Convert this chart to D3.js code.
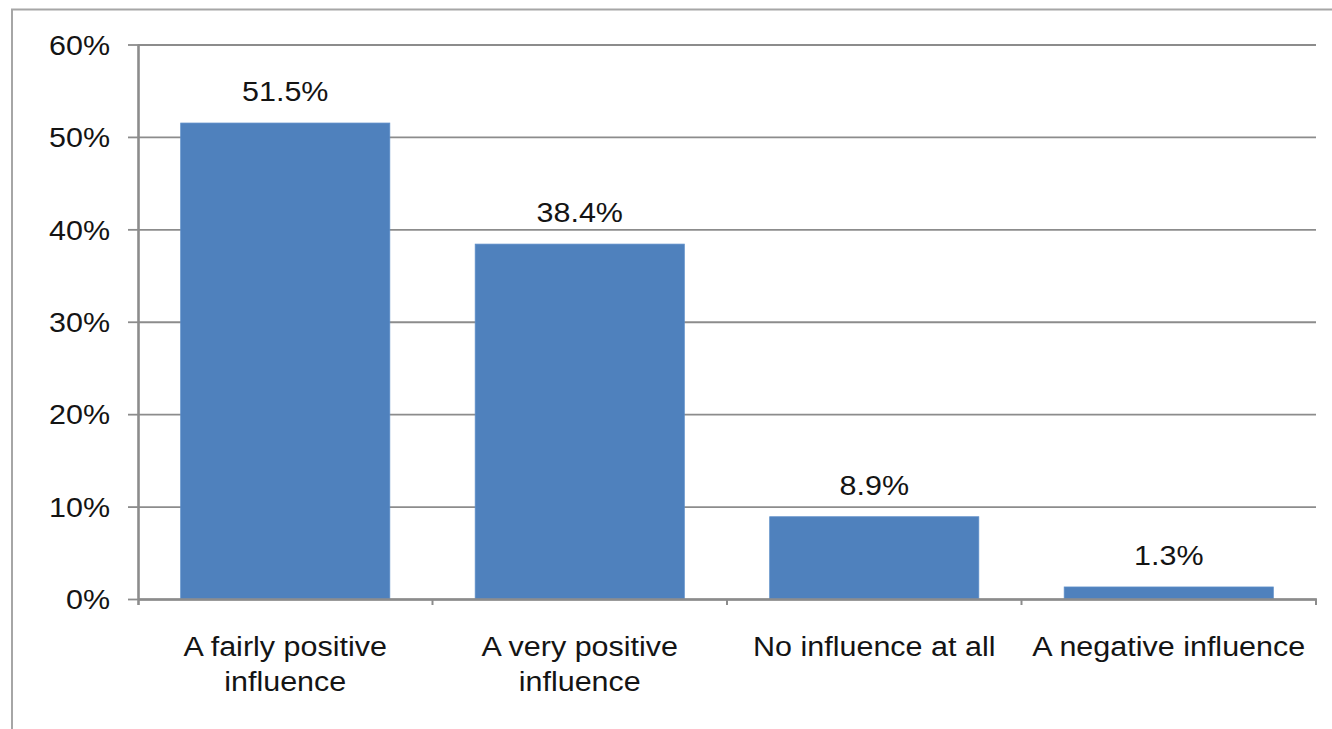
<!DOCTYPE html>
<html>
<head>
<meta charset="utf-8">
<script src="https://cdn.jsdelivr.net/npm/d3@7"></script>
<style>
  body { margin: 0; background: #fff; }
  svg { display: block; }
  text { font-family: "Liberation Sans", Arial, sans-serif; fill: #141414; }
</style>
</head>
<body>
<svg id="chart" width="1332" height="729"></svg>
<script>
const categories = ["A fairly positive\ninfluence", "A very positive\ninfluence", "No influence at all", "A negative influence"];
const values = [0.515, 0.384, 0.089, 0.013];
const valueLabels = ["51.5%", "38.4%", "8.9%", "1.3%"];
const yTicks = [0, 0.1, 0.2, 0.3, 0.4, 0.5, 0.6];

const W = 1332, H = 729;
const plotLeft = 138, plotRight = 1316, plotTop = 44.5, plotBottom = 599;
const SX = 1.13, FS = 27;
const lineColor = "#8c8c8c";

const svg = d3.select("#chart");

// outer frame
svg.append("rect").attr("x", 12).attr("y", 9.5).attr("width", W + 20).attr("height", H + 20)
  .attr("fill", "none").attr("stroke", "#a6a6a6").attr("stroke-width", 2);

const x = d3.scaleBand().domain(categories).range([plotLeft, plotRight]).paddingInner(0.29).paddingOuter(0.145);
const y = d3.scaleLinear().domain([0, 0.6]).range([plotBottom, plotTop]);

// gridlines
const grid = svg.append("g").attr("transform", `translate(${plotLeft},0)`)
  .call(d3.axisLeft(y).tickValues(yTicks).tickSize(-(plotRight - plotLeft)).tickFormat(""));
grid.select(".domain").remove();
grid.selectAll("line").attr("stroke", lineColor).attr("stroke-width", 1.8);

// y axis
const yAxis = svg.append("g").attr("transform", `translate(${plotLeft},0)`)
  .call(d3.axisLeft(y).tickValues(yTicks).tickSize(10).tickPadding(18).tickFormat(d3.format(".0%")));
yAxis.select(".domain").attr("stroke", lineColor).attr("stroke-width", 2.6)
  .attr("d", `M0.5,${plotTop}V${plotBottom + 6}`);
yAxis.selectAll(".tick line").attr("stroke", lineColor).attr("stroke-width", 1.8);
yAxis.selectAll(".tick text")
  .attr("font-size", FS).attr("font-family", "Liberation Sans, Arial, sans-serif").attr("fill", "#141414")
  .attr("x", -28 / SX).attr("transform", `scale(${SX},1)`).attr("dy", "0.36em");

// bars
svg.append("g").selectAll("rect").data(values).join("rect")
  .attr("x", (d, i) => x(categories[i]))
  .attr("y", d => y(d))
  .attr("width", x.bandwidth())
  .attr("height", d => y(0) - y(d))
  .attr("fill", "#4f81bd")
  .attr("stroke", "#5c8dc8").attr("stroke-width", 0.8);

// value labels
svg.append("g").selectAll("text").data(values).join("text")
  .attr("transform", (d, i) => `translate(${x(categories[i]) + x.bandwidth() / 2},${y(d) - 22}) scale(${SX},1)`)
  .attr("text-anchor", "middle").attr("font-size", FS)
  .text((d, i) => valueLabels[i]);

// x axis baseline
svg.append("line").attr("x1", plotLeft).attr("x2", plotRight + 1).attr("y1", plotBottom + 0.5).attr("y2", plotBottom + 0.5)
  .attr("stroke", lineColor).attr("stroke-width", 2.6);

// category boundary ticks
const gap = x.step() - x.bandwidth();
const bounds = categories.map(c => x(c) + x.bandwidth() + gap / 2);
bounds[bounds.length - 1] = x.range()[1];
svg.append("g").selectAll("line").data(bounds).join("line")
  .attr("x1", d => d).attr("x2", d => d).attr("y1", plotBottom).attr("y2", plotBottom + 6)
  .attr("stroke", lineColor).attr("stroke-width", 2);

// category labels
const cat = svg.append("g").selectAll("g").data(categories).join("g")
  .attr("transform", d => `translate(${x(d) + x.bandwidth() / 2},656) scale(${SX},1)`);
cat.append("text").attr("text-anchor", "middle").attr("font-size", FS)
  .selectAll("tspan").data(d => d.split("\n")).join("tspan")
  .attr("x", 0).attr("y", (d, i) => i * 35).text(d => d);
</script>
</body>
</html>
